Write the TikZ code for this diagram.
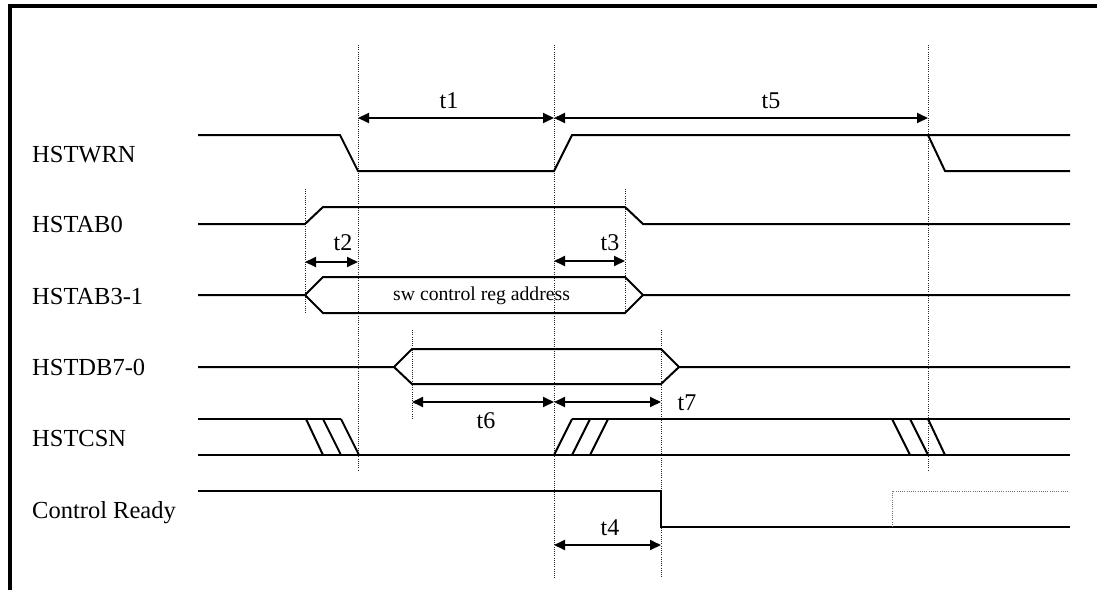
\documentclass[tikz,border=0pt]{standalone}
\usepackage{fontspec}
\setmainfont{Liberation Serif}
\usetikzlibrary{arrows.meta}
\begin{document}
\begin{tikzpicture}[x=1pt,y=-1pt,
  sig/.style={line width=2pt, line join=miter},
  guide/.style={line width=0.8pt, dash pattern=on 1pt off 1.2pt, black!85},
  ghost/.style={line width=1pt, dash pattern=on 1pt off 1.2pt, black!55},
  dim/.style={line width=1.8pt, {Triangle[length=11pt,width=10pt]}-{Triangle[length=11pt,width=10pt]}},
  lbl/.style={font=\fontsize{24.5}{29}\selectfont, anchor=base west, inner sep=0pt},
  tl/.style={font=\fontsize{24}{29}\selectfont, anchor=base, inner sep=0pt},
  bustxt/.style={font=\fontsize{19.7}{24}\selectfont, anchor=base west, inner sep=0pt},
  frame/.style={line width=3.5pt}]
\useasboundingbox (0,0) rectangle (1097,589);
\fill[white] (0,0) rectangle (1097,589);
% frame
\draw[frame] (8,6) -- (1100,6);
\draw[frame] (10,4) -- (10,592);
% guide lines
\draw[guide] (358,45) -- (358,470);
\draw[guide] (554,45) -- (554,578);
\draw[guide] (928,45) -- (928,470);
\draw[guide] (305,189) -- (305,313);
\draw[guide] (625,189) -- (625,313);
\draw[guide] (412,330) -- (412,420);
\draw[guide] (661,330) -- (661,577);
% signal names
\node[lbl] (nwrn) at (32,162) {HSTWRN};
\node[lbl] (nab0) at (32,232) {HSTAB0};
\node[lbl] (nab3) at (32,304) {HSTAB3-1};
\node[lbl] (ndb) at (32,375) {HSTDB7-0};
\node[lbl] (ncsn) at (32,446) {HSTCSN};
\node[lbl] (ncr) at (32,518) {Control Ready};
% HSTWRN
\draw[sig] (198,135) -- (340,135) -- (358,171) -- (554,171) -- (572,135) -- (1070,135);
\draw[sig] (928,135) -- (945,171) -- (1070,171);
% HSTAB0
\draw[sig] (198,224) -- (305,224) -- (323,207) -- (625,207) -- (643,224) -- (1070,224);
% HSTAB3-1
\draw[sig] (198,295) -- (305,295) -- (323,277) -- (625,277) -- (643,295) -- (1070,295);
\draw[sig] (305,295) -- (323,313) -- (625,313) -- (643,295);
\node[bustxt] (swtxt) at (393,300) {sw control reg address};
% HSTDB7-0
\draw[sig] (198,367) -- (394,367) -- (412,349) -- (661,349) -- (679,367) -- (1070,367);
\draw[sig] (394,367) -- (412,384) -- (661,384) -- (679,367);
% HSTCSN
\draw[sig] (198,419) -- (341,419);
\draw[sig] (198,455) -- (1070,455);
\draw[sig] (572,419) -- (1070,419);
\draw[sig] (306,419) -- (323,455);
\draw[sig] (323,419) -- (341,455);
\draw[sig] (341,419) -- (359,455);
\draw[sig] (554,455) -- (572,419);
\draw[sig] (572,455) -- (590,419);
\draw[sig] (590,455) -- (608,419);
\draw[sig] (892,419) -- (910,455);
\draw[sig] (910,419) -- (928,455);
\draw[sig] (928,419) -- (945,455);
% Control Ready
\draw[sig] (198,491) -- (661,491) -- (661,527) -- (1070,527);
\draw[ghost] (892,527) -- (892,491) -- (1068,491);
% dimension arrows
\coordinate (d1a) at (358,118); \coordinate (d1b) at (554,118);
\coordinate (d5b) at (928,118);
\coordinate (d2a) at (305,262); \coordinate (d2b) at (358,262);
\coordinate (d3a) at (554,261); \coordinate (d3b) at (625,261);
\coordinate (d6a) at (412,402); \coordinate (d6b) at (554,402);
\coordinate (d7b) at (661,402);
\coordinate (d4a) at (554,545); \coordinate (d4b) at (661,545);
\draw[dim] (d1a) -- (d1b);
\draw[dim] (d1b) -- (d5b);
\draw[dim] (d2a) -- (d2b);
\draw[dim] (d3a) -- (d3b);
\draw[dim] (d6a) -- (d6b);
\draw[dim] (d6b) -- (d7b);
\draw[dim] (d4a) -- (d4b);
% timing labels
\node[tl] (t1) at (449,108) {t1};
\node[tl] (t5) at (771,108) {t5};
\node[tl] (t2) at (343,250) {t2};
\node[tl] (t3) at (610,250) {t3};
\node[tl] (t6) at (486,428) {t6};
\node[tl] (t7) at (687,410) {t7};
\node[tl] (t4) at (610,535) {t4};
\end{tikzpicture}
\end{document}
